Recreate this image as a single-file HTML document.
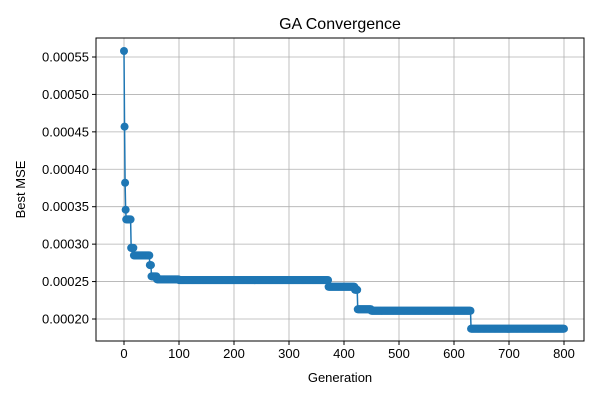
<!DOCTYPE html>
<html><head><meta charset="utf-8"><style>
body{margin:0;background:#fff;font-family:"Liberation Sans","DejaVu Sans",sans-serif}
</style></head><body>
<svg id="chart" width="600" height="400" xmlns="http://www.w3.org/2000/svg"></svg>
<script>
// Step changes of best MSE (generation where a new value starts, and that value)
const stepStarts = [0, 1, 2, 3, 4, 13, 18, 47, 50, 60, 100, 372, 420, 425, 450, 631];
const stepValues = [0.000558, 0.000457, 0.000382, 0.000346, 0.000333, 0.000295, 0.000285, 0.000272, 0.000257, 0.000253, 0.000252, 0.000243, 0.000239, 0.000213, 0.000211, 0.000187];
const lastGeneration = 800;
const xTicks = [0, 100, 200, 300, 400, 500, 600, 700, 800];
const yTicks = [0.00020, 0.00025, 0.00030, 0.00035, 0.00040, 0.00045, 0.00050, 0.00055];

const NS = "http://www.w3.org/2000/svg";
const svg = document.getElementById('chart');
const L = 96, R = 584, T = 38, B = 341;
const x = g => 124 + g * (564 - 124) / 800;
const y = v => 319 - (v - 0.0002) / 0.00005 * 37.43;
function mk(tag, attrs, parent) {
  const e = document.createElementNS(NS, tag);
  for (const k in attrs) e.setAttribute(k, attrs[k]);
  (parent || svg).appendChild(e);
  return e;
}
// grid
const grid = mk('g', {});


xTicks.forEach(t => mk('line', {x1: x(t), x2: x(t), y1: T, y2: B, stroke: '#b0b0b0', 'stroke-width': 0.8}, grid));
yTicks.forEach(t => mk('line', {x1: L, x2: R, y1: y(t), y2: y(t), stroke: '#b0b0b0', 'stroke-width': 0.8}, grid));
// data
const gens = [], vals = [];
for (let g = 0; g <= lastGeneration; g++) {
  let v = stepValues[0];
  for (let i = 0; i < stepStarts.length; i++) if (g >= stepStarts[i]) v = stepValues[i];
  gens.push(g); vals.push(v);
}
const line = mk('polyline', {points: gens.map((g, i) => x(g) + ',' + y(vals[i])).join(' '), fill: 'none', stroke: '#1f77b4', 'stroke-width': 1.5});


const pts = mk('g', {fill: '#1f77b4'});


gens.forEach((g, i) => {
  const c = mk('circle', {cx: x(g), cy: y(vals[i]), r: 4}, pts);
  
  
});
// frame
const frame = mk('rect', {x: L, y: T, width: R - L, height: B - T, fill: 'none', stroke: '#000', 'stroke-width': 1});


// ticks
xTicks.forEach(t => {
  mk('line', {x1: x(t), x2: x(t), y1: B, y2: B + 4, stroke: '#000'});
  const tx = mk('text', {x: x(t), y: B + 17, 'text-anchor': 'middle', 'font-size': 13});
  tx.textContent = t;
  
  
});
yTicks.forEach(t => {
  mk('line', {x1: L - 4, x2: L, y1: y(t), y2: y(t), stroke: '#000'});
  const tx = mk('text', {x: L - 7, y: y(t) + 4.5, 'text-anchor': 'end', 'font-size': 13});
  tx.textContent = t.toFixed(5);
  
  
});
const title = mk('text', {x: (L + R) / 2, y: 29, 'text-anchor': 'middle', 'font-size': 16});
title.textContent = 'GA Convergence';


const xl = mk('text', {x: (L + R) / 2, y: 382, 'text-anchor': 'middle', 'font-size': 13});
xl.textContent = 'Generation';


const yl = mk('text', {x: 0, y: 0, 'text-anchor': 'middle', 'font-size': 13, transform: 'translate(25,' + (T + B) / 2 + ') rotate(-90)'});
yl.textContent = 'Best MSE';


</script>
</body></html>
